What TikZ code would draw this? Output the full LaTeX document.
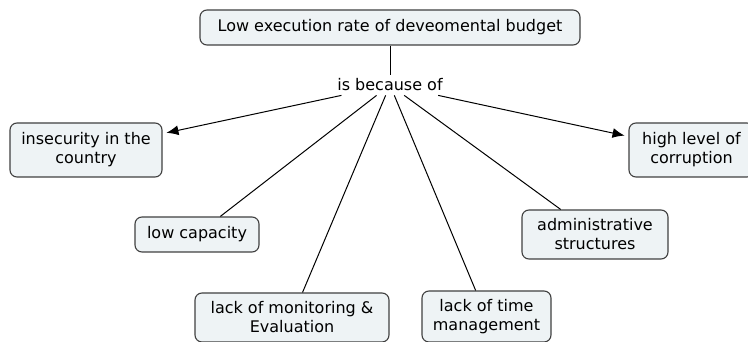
\documentclass[tikz,border=0pt]{standalone}
\usepackage{fontspec}
\setmainfont{DejaVu Sans}
\usepackage{tikz}
\usetikzlibrary{arrows.meta}
\definecolor{boxfill}{HTML}{EEF3F5}
\definecolor{boxline}{HTML}{404040}

\begin{document}
\begin{tikzpicture}[x=1pt,y=-1pt,
	concept/.style={draw=boxline, fill=boxfill, line width=1.1pt, rounded corners=7pt, align=center, inner sep=2pt, font=\fontsize{16}{19}\selectfont},
	link/.style={inner sep=4pt, font=\fontsize{16}{19}\selectfont},
	arr/.style={-{Latex[length=12pt,width=10pt]}, shorten >=4pt}]
	%\draw [help lines] (0,0) grid (748,342);
	\useasboundingbox (0,0) rectangle (748,342);
	%Concetto principale
	\node [concept, minimum width=380pt, minimum height=35pt] (budget) at (390,27.5) {Low execution rate of deveomental budget};
	\node [link] (because) at (390,85) {is because of};
	%Cause
	\node [concept, minimum width=152pt, minimum height=54pt] (insecurity) at (86,150) {insecurity in the\\country};
	\node [concept, minimum width=125pt, minimum height=54pt] (corruption) at (691.5,150) {high level of\\corruption};
	\node [concept, minimum width=124pt, minimum height=35pt] (capacity) at (197,234.5) {low capacity};
	\node [concept, minimum width=146pt, minimum height=49pt] (admin) at (595,234.5) {administrative\\structures};
	\node [concept, minimum width=194pt, minimum height=49pt] (monitoring) at (292,317.5) {lack of monitoring \&\\Evaluation};
	\node [concept, minimum width=129pt, minimum height=51pt] (time) at (486.5,316.5) {lack of time\\management};
	%Collegamenti
	\draw [line width=1pt] (budget) -- (because);
	\draw [line width=1pt, arr] (because) -- (insecurity);
	\draw [line width=1pt, arr] (because) -- (corruption);
	\draw [line width=1pt] (because) -- (capacity);
	\draw [line width=1pt] (because) -- (monitoring);
	\draw [line width=1pt] (because) -- (time);
	\draw [line width=1pt] (because) -- (admin);
\end{tikzpicture}
\end{document}
